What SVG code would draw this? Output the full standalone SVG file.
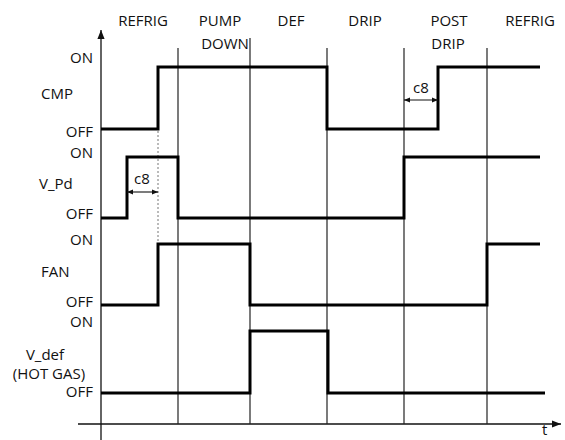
<svg xmlns="http://www.w3.org/2000/svg" width="565" height="440" viewBox="0 0 565 440">
<style>
text{font-family:"Open Sans","Liberation Sans",Arial,sans-serif;font-size:15px;fill:#111}
.r{text-anchor:end}
.m{text-anchor:middle}
.ax{stroke:#111;stroke-width:1.3;fill:none}
.grid{stroke:#222;stroke-width:1.2;fill:none}
.sig{stroke:#000;stroke-width:3;fill:none;stroke-linejoin:miter}
.dim{stroke:#111;stroke-width:1.1;fill:none;marker-start:url(#ah);marker-end:url(#ah)}
</style>
<defs>
<marker id="ah" viewBox="0 0 10 10" refX="10" refY="5" markerWidth="6" markerHeight="6" orient="auto-start-reverse" markerUnits="userSpaceOnUse"><path d="M0,1 L10,5 L0,9 z" fill="#111"/></marker>
<marker id="ax" viewBox="0 0 10 10" refX="10" refY="5" markerWidth="9" markerHeight="9" orient="auto" markerUnits="userSpaceOnUse"><path d="M0,1 L10,5 L0,9 z" fill="#111"/></marker>
</defs>
<g id="phases">
<text class="m" x="143" y="26">REFRIG</text>
<text class="m" x="220" y="26">PUMP</text>
<text class="m" x="225" y="49">DOWN</text>
<text class="m" x="291" y="26">DEF</text>
<text class="m" x="365" y="26">DRIP</text>
<text class="m" x="449" y="26">POST</text>
<text class="m" x="448" y="49">DRIP</text>
<text class="m" x="530" y="26">REFRIG</text>
</g>
<g id="labels">
<text class="r" x="93" y="63">ON</text>
<text x="41" y="99">CMP</text>
<text class="r" x="93" y="137">OFF</text>
<text class="r" x="93" y="158">ON</text>
<text x="39" y="189">V_Pd</text>
<text class="r" x="93" y="219">OFF</text>
<text class="r" x="93" y="245">ON</text>
<text x="41" y="277">FAN</text>
<text class="r" x="93" y="307">OFF</text>
<text class="r" x="93" y="327">ON</text>
<text class="m" x="45" y="360">V_def</text>
<text class="m" x="49" y="379">(HOT GAS)</text>
<text class="r" x="93" y="397">OFF</text>
<text x="542" y="435">t</text>
</g>
<g id="connectors">
<line class="ax" x1="101" y1="440" x2="101" y2="30" marker-end="url(#ax)"/>
<line class="ax" x1="78" y1="424" x2="561" y2="424" marker-end="url(#ax)"/>
<line class="grid" x1="178" y1="48" x2="178" y2="424"/>
<line class="grid" x1="250" y1="38" x2="250" y2="424"/>
<line class="grid" x1="327" y1="48" x2="327" y2="424"/>
<line class="grid" x1="404" y1="48" x2="404" y2="424"/>
<line class="grid" x1="487" y1="48" x2="487" y2="424"/>
<line x1="158" y1="131" x2="158" y2="243" stroke="#777" stroke-width="1" stroke-dasharray="2,2"/>
</g>
<g id="CMP">
<polyline class="sig" points="101,129 158,129 158,67 327,67 327,129 438,129 438,67 540,67"/>
</g>
<g id="V_Pd">
<polyline class="sig" points="101,218 127,218 127,157 178,157 178,218 404,218 404,157 540,157"/>
</g>
<g id="FAN">
<polyline class="sig" points="101,305 158,305 158,244 250,244 250,305 487,305 487,244 540,244"/>
</g>
<g id="V_def">
<polyline class="sig" points="101,393 250,393 250,331 328,331 328,393 545,393"/>
</g>
<g id="c8_cmp">
<line class="dim" x1="404" y1="100" x2="438" y2="100"/>
<text class="m" x="421" y="93">c8</text>
</g>
<g id="c8_vpd">
<line class="dim" x1="127" y1="192" x2="158" y2="192"/>
<text class="m" x="142" y="184">c8</text>
</g>
</svg>
